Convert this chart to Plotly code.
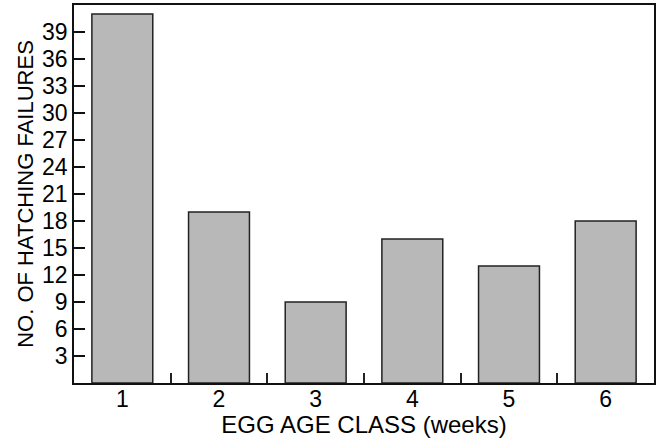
import plotly.graph_objects as go

categories = ["1", "2", "3", "4", "5", "6"]
failures = [41, 19, 9, 16, 13, 18]
y_ticks = [3, 6, 9, 12, 15, 18, 21, 24, 27, 30, 33, 36, 39]

fig = go.Figure(go.Bar(
    x=categories, y=failures,
    marker=dict(color="#b8b8b8", line=dict(color="#222222", width=1.5)),
    width=0.63,
))

fam = "Liberation Sans, Arial, sans-serif"
tick_font = dict(family=fam, size=23, color="#000000")
fig.update_layout(
    width=659, height=438,
    autosize=False,
    margin=dict(l=74, r=5, t=5, b=55, autoexpand=False),
    plot_bgcolor="white", paper_bgcolor="white",
    font=tick_font,
    showlegend=False,
    xaxis=dict(
        type="category", tickson="boundaries", ticks="inside", ticklen=10,
        tickwidth=1.5, tickcolor="#222", showline=True, linecolor="#111", linewidth=1.5,
        mirror=True, showgrid=False, tickfont=tick_font, automargin=True,
        ticklabelstandoff=-5,
        title=dict(text="EGG AGE CLASS (weeks)", font=dict(family=fam, size=24, color="#000"), standoff=0),
    ),
    yaxis=dict(
        range=[0, 42], tickmode="array", tickvals=y_ticks, ticks="inside", ticklen=11,
        tickwidth=1.5, tickcolor="#111", showline=True, linecolor="#111", linewidth=1.5,
        mirror=True, showgrid=False, zeroline=False, tickfont=tick_font, automargin=True,
        ticksuffix=" ",
        title=dict(text="NO. OF HATCHING FAILURES", font=dict(family=fam, size=22, color="#000"), standoff=2),
    ),
)
# inside tick marks on the y axis, placed through the y scale
for v in y_ticks:
    fig.add_shape(type="line", xref="x domain", yref="y", x0=0, x1=0.019, y0=v, y1=v,
                  line=dict(color="#111", width=1.5), layer="above")

fig.write_html("out.html", config={"displayModeBar": False},
               post_script="document.body.style.margin='0';")
